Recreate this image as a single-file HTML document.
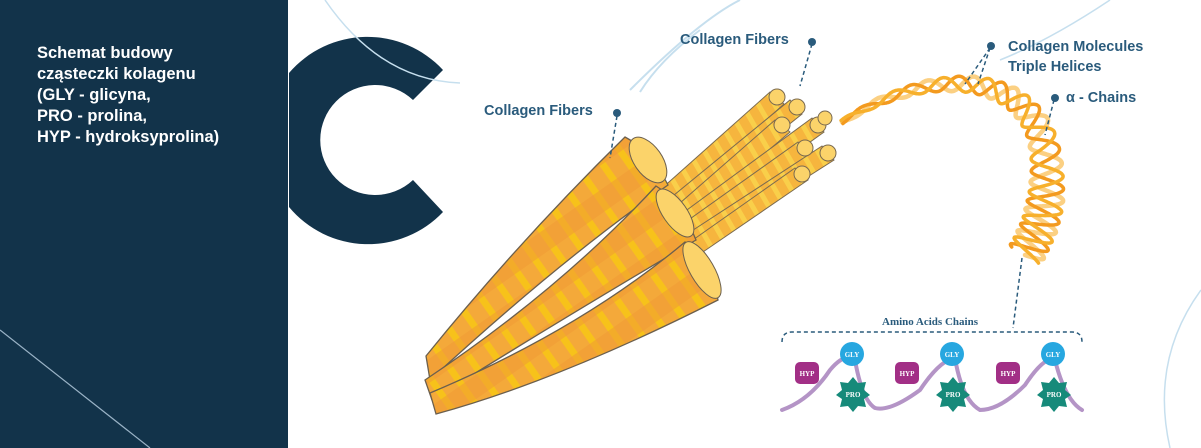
<!DOCTYPE html>
<html><head><meta charset="utf-8"><style>
html,body{margin:0;padding:0;background:#fff}
body{width:1201px;height:448px;overflow:hidden;position:relative;font-family:"Liberation Sans",sans-serif}
.lbl{position:absolute;color:#2a5b7c;font-weight:bold;font-size:14.5px}
</style></head><body>
<svg id="s" width="1201" height="448" style="position:absolute;left:0;top:0">
<defs>
<pattern id="st" width="22" height="40" patternUnits="userSpaceOnUse" patternTransform="rotate(-35)">
<rect width="22" height="40" fill="#f4a93a"/><rect x="0" width="7" height="40" fill="#f7c21a"/><rect y="20" width="22" height="20" fill="#f09a35" opacity="0.55"/>
</pattern>
<pattern id="st2" width="14" height="10" patternUnits="userSpaceOnUse" patternTransform="rotate(-30)">
<rect width="14" height="10" fill="#f6b53e"/><rect width="5" height="10" fill="#f9cf4a"/>
</pattern>
</defs>
<rect x="0" y="0" width="288" height="448" fill="#12334a"/>
<line x1="0" y1="330" x2="150" y2="448" stroke="#9ab3c6" stroke-width="1.2"/>
<path d="M289 73 A103 103 0 0 1 443 70 L413 100 A55 55 0 1 0 413 180 L443 212 A103 103 0 0 1 289 207 Z" fill="#12334a"/>
<path d="M325 0 Q380 80 460 83" fill="none" stroke="#c6dfee" stroke-width="1.5"/>
<path d="M630 90 Q700 20 740 0 M640 92 Q660 60 700 30" fill="none" stroke="#c6dfee" stroke-width="2"/>
<path d="M1110 0 Q1050 40 1000 60" fill="none" stroke="#c6dfee" stroke-width="1.5"/>
<path d="M1201 290 Q1150 360 1170 448" fill="none" stroke="#c6dfee" stroke-width="1.5"/>
<g stroke="#7a6a50" stroke-width="1" fill="url(#st2)">
<path d="M660 190 L770 92 L784 104 L672 204 Z"/>
<path d="M668 200 L790 100 L802 114 L680 212 Z"/>
<path d="M672 210 L775 120 L790 132 L684 222 Z"/>
<path d="M676 218 L812 118 L824 132 L688 230 Z"/>
<path d="M680 226 L798 142 L812 154 L692 238 Z"/>
<path d="M684 236 L822 146 L834 160 L696 248 Z"/>
<path d="M690 242 L795 168 L808 180 L700 254 Z"/>
</g>
<g fill="#fbd36a" stroke="#7a6a50"><circle cx="777" cy="97" r="8"/><circle cx="797" cy="107" r="8"/><circle cx="782" cy="125" r="8"/><circle cx="818" cy="125" r="8"/><circle cx="805" cy="148" r="8"/><circle cx="828" cy="153" r="8"/><circle cx="802" cy="174" r="8"/><circle cx="825" cy="118" r="7"/></g>
<g stroke="#6b5f4e" stroke-width="1.3" fill="url(#st)">
<path d="M426 356 Q520 240 625 137 Q650 150 668 185 Q560 260 430 380 Z"/>
<path d="M425 380 Q560 290 656 186 Q680 200 696 240 Q560 320 432 400 Z"/>
<path d="M430 393 Q580 330 685 242 Q712 270 718 300 Q560 380 436 414 Z"/>
</g>
<g fill="#fbd36a" stroke="#6b5f4e"><ellipse cx="648" cy="160" rx="14" ry="26" transform="rotate(-35 648 160)"/><ellipse cx="675" cy="213" rx="12" ry="28" transform="rotate(-35 675 213)"/><ellipse cx="702" cy="270" rx="12" ry="32" transform="rotate(-30 702 270)"/></g>
<g id="helix" fill="none" stroke-linecap="round"></g>
<g stroke="#2a5b7c" stroke-width="1.5" stroke-dasharray="4 3" fill="none">
<line x1="617" y1="116" x2="610" y2="158"/>
<line x1="812" y1="44" x2="800" y2="86"/>
<line x1="990" y1="48" x2="965" y2="84"/><line x1="990" y1="48" x2="978" y2="84"/>
<line x1="1054" y1="100" x2="1045" y2="135"/>
<line x1="1022" y1="258" x2="1013" y2="328"/>
<path d="M782 342 Q782 332 792 332 L1072 332 Q1082 332 1082 342"/>
</g>
<g fill="#2a5b7c"><circle cx="617" cy="113" r="4"/><circle cx="812" cy="42" r="4"/><circle cx="991" cy="46" r="4"/><circle cx="1055" cy="98" r="4"/></g>
<text x="930" y="325" font-family="Liberation Serif" font-weight="bold" font-size="11" fill="#2a5b7c" text-anchor="middle">Amino Acids Chains</text>
<path d="M782 410 Q810 400 830 370 Q845 352 855 360 Q862 400 875 408 Q890 412 920 390 Q940 360 955 358 Q962 400 980 410 Q1000 410 1025 385 Q1045 355 1055 360 Q1065 400 1082 410" fill="none" stroke="#b494c6" stroke-width="4" stroke-linecap="round"/>
<g font-family="Liberation Serif" font-weight="bold" font-size="7" fill="#fff" text-anchor="middle">
<g><rect x="795" y="362" width="24" height="22" rx="5" fill="#a22f86"/><text x="807" y="376">HYP</text>
<circle cx="852" cy="354" r="12" fill="#27a7e0"/><text x="852" y="357">GLY</text>
<polygon points="853,377 858,383 866,382 864,390 870,395 864,399 866,407 858,406 853,412 848,406 840,407 842,399 836,395 842,390 840,382 848,383" fill="#168a7a"/><text x="853" y="397">PRO</text></g>
<g transform="translate(100,0)"><rect x="795" y="362" width="24" height="22" rx="5" fill="#a22f86"/><text x="807" y="376">HYP</text>
<circle cx="852" cy="354" r="12" fill="#27a7e0"/><text x="852" y="357">GLY</text>
<polygon points="853,377 858,383 866,382 864,390 870,395 864,399 866,407 858,406 853,412 848,406 840,407 842,399 836,395 842,390 840,382 848,383" fill="#168a7a"/><text x="853" y="397">PRO</text></g>
<g transform="translate(201,0)"><rect x="795" y="362" width="24" height="22" rx="5" fill="#a22f86"/><text x="807" y="376">HYP</text>
<circle cx="852" cy="354" r="12" fill="#27a7e0"/><text x="852" y="357">GLY</text>
<polygon points="853,377 858,383 866,382 864,390 870,395 864,399 866,407 858,406 853,412 848,406 840,407 842,399 836,395 842,390 840,382 848,383" fill="#168a7a"/><text x="853" y="397">PRO</text></g>
</g>
</svg>
<script>
(function(){
var P=[[842,122],[930,65],[1030,70],[1045,150],[1052,200],[1040,230],[1025,255]];
function bez(a,b,c,d,t){var u=1-t;return[u*u*u*a[0]+3*u*u*t*b[0]+3*u*t*t*c[0]+t*t*t*d[0],u*u*u*a[1]+3*u*u*t*b[1]+3*u*t*t*c[1]+t*t*t*d[1]];}
var pts=[];var N=500;
for(var i=0;i<=N;i++){var t=i/N,s;if(t<0.6){s=bez(P[0],P[1],P[2],P[3],t/0.6);}else{s=bez(P[3],P[4],P[5],P[6],(t-0.6)/0.4);}pts.push(s);}
var g=document.getElementById('helix');
var cols=[["#fbd083",4.5],["#f39a1f",3.5],["#f7b02c",3.5]];
for(var k=0;k<3;k++){var d="";
for(var i=0;i<=N;i++){var a=pts[Math.max(0,i-1)],b=pts[Math.min(N,i+1)];var dx=b[0]-a[0],dy=b[1]-a[1],l=Math.sqrt(dx*dx+dy*dy)||1;var nx=-dy/l,ny=dx/l;var t=i/N;var amp=2+16*Math.min(1,t*1.3);var ph=t*9*Math.PI*2+k*2.1;var o=amp*Math.sin(ph);d+=(i?"L":"M")+(pts[i][0]+nx*o).toFixed(1)+" "+(pts[i][1]+ny*o).toFixed(1);}
var p=document.createElementNS("http://www.w3.org/2000/svg","path");p.setAttribute("d",d);p.setAttribute("stroke",cols[k][0]);p.setAttribute("stroke-width",cols[k][1]);g.appendChild(p);}
})();
</script>
<div style="position:absolute;left:37px;top:43px;color:#fff;font-weight:bold;font-size:16.5px;line-height:21px">Schemat budowy<br>cząsteczki kolagenu<br>(GLY - glicyna,<br>PRO - prolina,<br>HYP - hydroksyprolina)</div>
<div class="lbl" style="left:484px;top:103px">Collagen Fibers</div>
<div class="lbl" style="left:680px;top:32px">Collagen Fibers</div>
<div class="lbl" style="left:1008px;top:37px;line-height:20px">Collagen Molecules<br>Triple Helices</div>
<div class="lbl" style="left:1066px;top:90px">α - Chains</div>
</body></html>
